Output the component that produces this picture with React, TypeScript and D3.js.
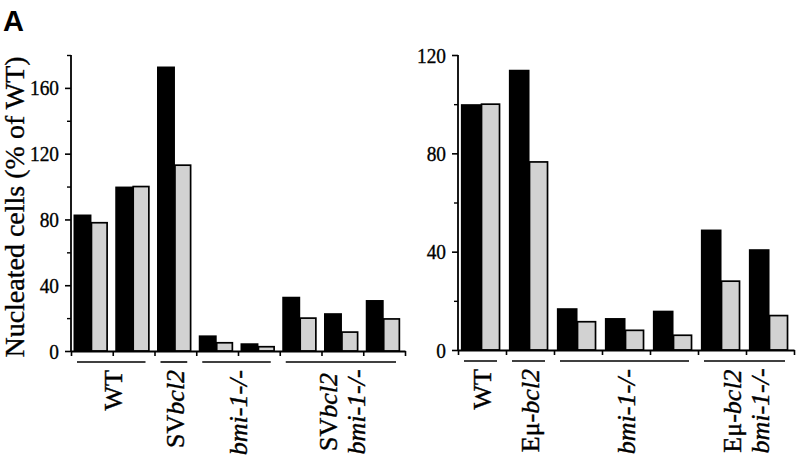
import React, { useEffect, useRef } from 'react';
import * as d3 from 'd3';

// values (% of WT)
const leftBlack = [83, 100, 173, 9.5, 4.7, 33, 23, 31];
const leftGrey = [78, 100, 113, 5, 2.6, 20, 11.5, 19.5];
const rightBlack = [100, 114, 17, 13, 16, 49, 41];
const rightGrey = [100, 76.5, 11.5, 8, 6, 28, 14];

const leftTicks = [0, 40, 80, 120, 160];
const leftMinor = [20, 60, 100, 140, 180];
const rightTicks = [0, 40, 80, 120];
const rightMinor = [20, 60, 100];

type Part = { t: string; i?: boolean };
type Group = { from: number; to: number; lines: Part[][] };

const leftGroups: Group[] = [
  { from: 0, to: 1, lines: [[{ t: 'WT' }]] },
  { from: 2, to: 2, lines: [[{ t: 'SV' }, { t: 'bcl2', i: true }]] },
  { from: 3, to: 4, lines: [[{ t: 'bmi-1-/-', i: true }]] },
  { from: 5, to: 7, lines: [[{ t: 'SV' }, { t: 'bcl2', i: true }], [{ t: 'bmi-1-/-', i: true }]] },
];
const rightGroups: Group[] = [
  { from: 0, to: 0, lines: [[{ t: 'WT' }]] },
  { from: 1, to: 1, lines: [[{ t: 'Eμ-' }, { t: 'bcl2', i: true }]] },
  { from: 2, to: 4, lines: [[{ t: 'bmi-1-/-', i: true }]] },
  { from: 5, to: 6, lines: [[{ t: 'Eμ-' }, { t: 'bcl2', i: true }], [{ t: 'bmi-1-/-', i: true }]] },
];

const FONT = '"Liberation Serif", "Times New Roman", serif';

const drawPanel = (svg, o) => {
  const { left, right, bottom, top, max, black, grey, ticks, minor, groups } = o;
  const n = black.length;
  const x = d3.scaleLinear().domain([0, n]).range([left, right]);
  const y = d3.scaleLinear().domain([0, max]).range([bottom, top]);
  const slot = x(1) - x(0);
  const g = svg.append('g');

  // bars
  g.selectAll('rect.black')
    .data(black)
    .enter().append('rect')
    .attr('x', (d, i) => x(i) + slot * 0.06)
    .attr('y', d => y(d))
    .attr('width', slot * 0.43)
    .attr('height', d => bottom - y(d))
    .attr('fill', '#000');

  g.selectAll('rect.grey')
    .data(grey)
    .enter().append('rect')
    .attr('x', (d, i) => x(i) + slot * 0.49)
    .attr('y', d => y(d))
    .attr('width', slot * 0.375)
    .attr('height', d => bottom - y(d))
    .attr('fill', '#d2d2d2')
    .attr('stroke', '#000')
    .attr('stroke-width', 1.7);

  // y axis
  const yAxis = d3.axisLeft(y).tickValues(ticks).tickSize(6).tickSizeOuter(0).tickPadding(5);
  const ya = g.append('g').attr('transform', `translate(${left},0)`).call(yAxis);
  ya.attr('font-family', null).attr('font-size', null);
  ya.select('.domain').attr('stroke-width', 1.8).attr('d', `M0,${y(max)}V${bottom}`);
  ya.selectAll('.tick line').attr('stroke-width', 1.6);
  ya.selectAll('.tick text')
    .style('font-family', FONT)
    .style('font-size', '22px')
    .attr('fill', '#000')
    .attr('stroke', '#000')
    .attr('stroke-width', 0.35)
    .attr('transform', 'scale(0.88,1)')
    .attr('x', -12 / 0.88);
  g.append('g')
    .attr('transform', `translate(${left},0)`)
    .call(d3.axisLeft(y).tickValues(minor).tickSize(4).tickFormat(() => ''))
    .call(a => a.select('.domain').remove())
    .selectAll('.tick line').attr('stroke-width', 1.4);

  // x axis
  const xAxis = d3.axisBottom(x).tickValues(d3.range(0, n + 1)).tickSize(5).tickSizeOuter(0).tickFormat(() => '');
  const xa = g.append('g').attr('transform', `translate(0,${bottom})`).call(xAxis);
  xa.select('.domain').attr('stroke-width', 1.8);
  xa.selectAll('.tick line').attr('stroke-width', 1.6);

  // group underlines and labels
  groups.forEach(gr => {
    const x0 = x(gr.from) + 6;
    const x1 = x(gr.to + 1) - 9;
    g.append('line')
      .attr('x1', x0).attr('x2', x1)
      .attr('y1', bottom + 11).attr('y2', bottom + 11)
      .attr('stroke', '#000').attr('stroke-width', 1.6);
    const mid = (x(gr.from) + x(gr.to + 1)) / 2;
    const nl = gr.lines.length;
    gr.lines.forEach((line, li) => {
      const cx = mid + (li - (nl - 1) / 2) * 28;
      const single = nl === 1;
      const t = g.append('text')
        .attr('transform', `translate(${cx},${single ? bottom + 19 : bottom + 61}) rotate(-90)`)
        .attr('text-anchor', single ? 'end' : 'middle')
        .attr('dominant-baseline', 'central')
        .style('font-family', FONT)
        .style('font-size', '26px')
        .attr('fill', '#000')
        .attr('stroke', '#000')
        .attr('stroke-width', 0.4);
      line.forEach(p => {
        t.append('tspan').attr('font-style', p.i ? 'italic' : 'normal').text(p.t);
      });
    });
  });
};

const App = () => {
  const svgRef = useRef(null);

  useEffect(() => {
    const svg = d3.select(svgRef.current);
    svg.selectAll('*').remove();

    svg.append('rect').attr('width', 800).attr('height', 459).attr('fill', '#fff');

    svg.append('text')
      .attr('x', 3).attr('y', 31)
      .style('font-family', '"Liberation Sans", Arial, sans-serif')
      .attr('font-weight', 'bold')
      .style('font-size', '29px')
      .text('A');

    svg.append('text')
      .attr('transform', 'translate(14,207) rotate(-90)')
      .attr('text-anchor', 'middle')
      .attr('dominant-baseline', 'central')
      .style('font-family', FONT)
      .style('font-size', '28px')
      .attr('stroke', '#000')
      .attr('stroke-width', 0.35)
      .text('Nucleated cells (% of WT)');

    drawPanel(svg, {
      left: 71, right: 405, bottom: 351, top: 55, max: 180,
      black: leftBlack, grey: leftGrey, ticks: leftTicks, minor: leftMinor, groups: leftGroups,
    });
    drawPanel(svg, {
      left: 458, right: 794, bottom: 350, top: 55, max: 120,
      black: rightBlack, grey: rightGrey, ticks: rightTicks, minor: rightMinor, groups: rightGroups,
    });
  }, []);

  return (
    <svg ref={svgRef} width={800} height={459} style={{ position: 'absolute', left: 0, top: 0 }}></svg>
  );
};

export default App;
